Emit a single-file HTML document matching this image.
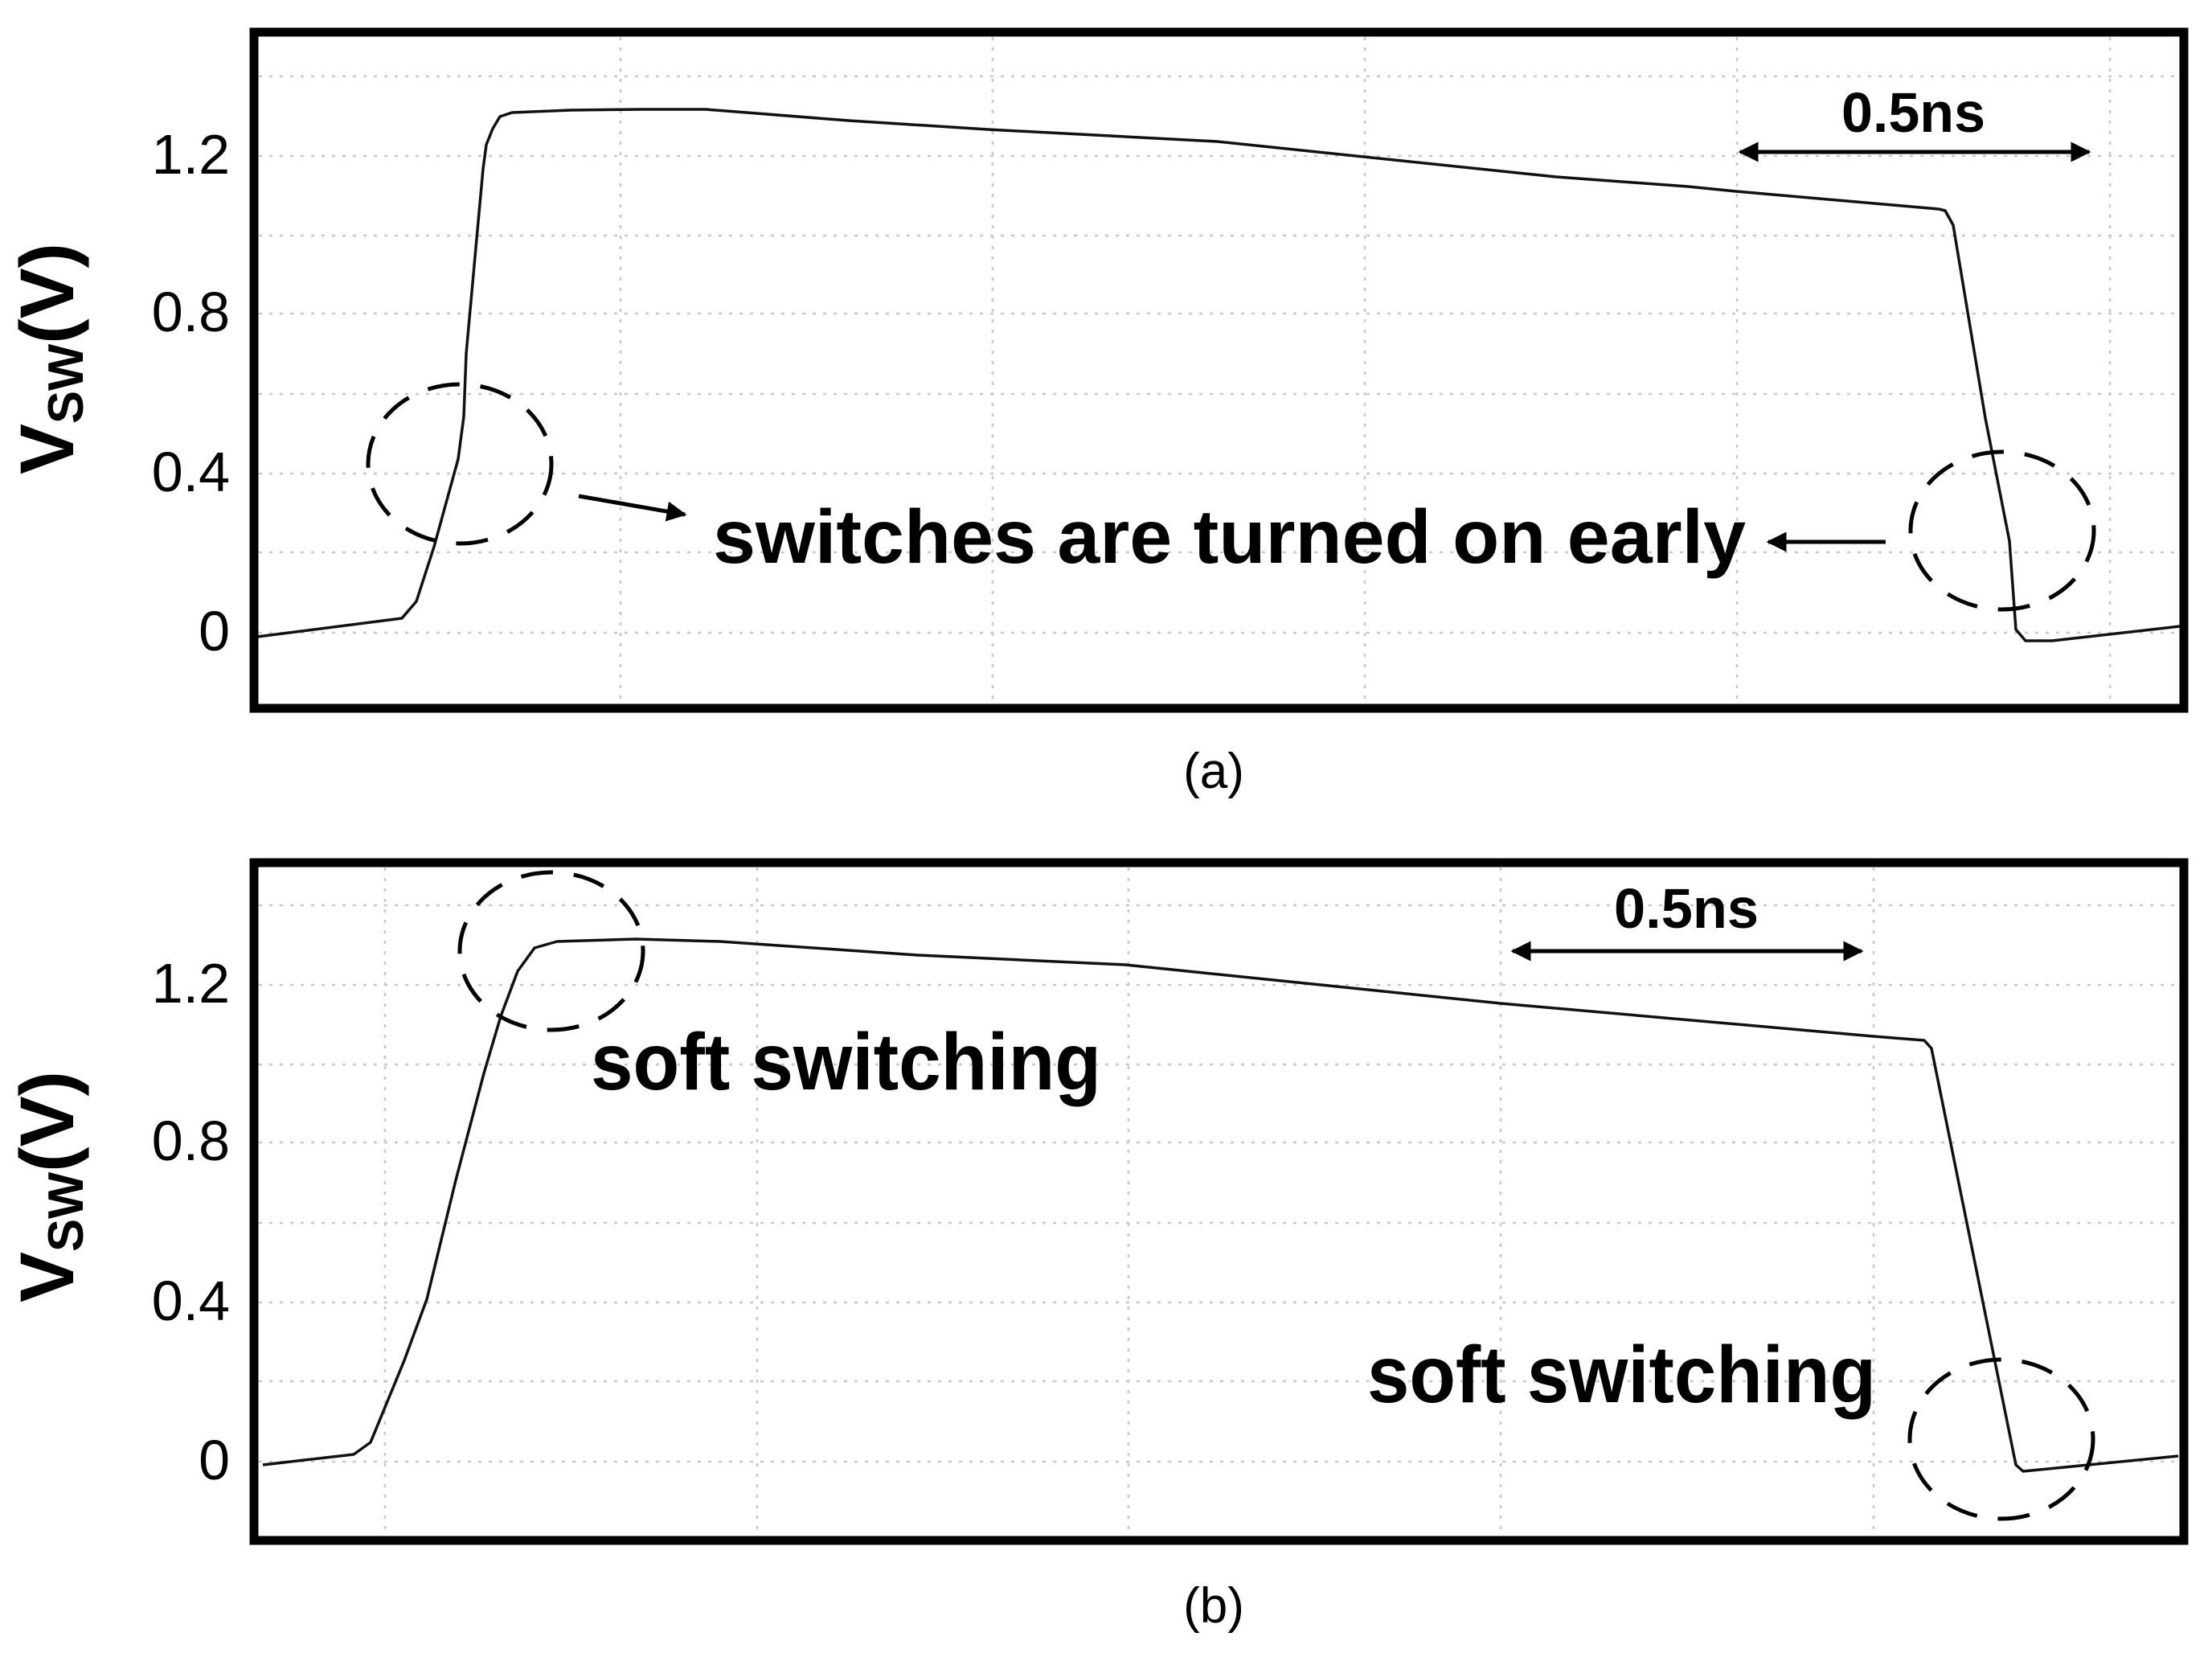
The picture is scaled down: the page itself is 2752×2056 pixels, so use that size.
<!DOCTYPE html>
<html><head><meta charset="utf-8"><style>html,body{margin:0;padding:0;background:#fff}svg{display:block}</style></head>
<body>
<svg xmlns="http://www.w3.org/2000/svg" width="2752" height="2056" viewBox="0 0 2752 2056">
<defs>
<marker id="ah" viewBox="0 0 10 10" refX="9" refY="5" markerWidth="5" markerHeight="5" orient="auto-start-reverse" markerUnits="strokeWidth"><path d="M0,0 L10,5 L0,10 z" fill="#000"/></marker>
</defs>
<rect width="2752" height="2056" fill="#fff"/>
<g stroke="#c8c8c8" stroke-width="2.5" stroke-dasharray="4,9" fill="none">
<path d="M322 95H2712M322 194H2712M322 293H2712M322 390H2712M322 490H2712M322 589H2712M322 687H2712M322 787H2712"/>
<path d="M772 46V876M1235 46V876M1698 46V876M2161 46V876M2625 46V876"/>
<path d="M322 1126H2712M322 1225H2712M322 1324H2712M322 1421H2712M322 1521H2712M322 1620H2712M322 1718H2712M322 1818H2712"/>
<path d="M479 1079V1910M942 1079V1910M1404 1079V1910M1867 1079V1910M2331 1079V1910"/>
</g>
<g fill="none" stroke="#111" stroke-width="3.5" stroke-linejoin="round">
<polyline points="320,792 500,769 518,748 540,680 570,571 577,518 580,440 590,330 601,210 605,180 613,160 622,145 637,140 710,137 800,136 878,136 1056,150 1229,161 1514,176 1936,220 2100,232 2160,238 2412,260 2420,262 2430,280 2470,520 2500,673 2508,783 2520,797 2553,797 2712,779"/>
<polyline points="327,1822 440,1809 461,1794 503,1692 531,1616 567,1468 602,1335 623,1264 644,1208 665,1179 693,1171 791,1168 896,1171 1142,1188 1400,1200 1867,1248 2331,1289 2394,1294 2403,1304 2508,1822 2517,1830 2710,1811"/>
</g>
<g fill="none" stroke="#000" stroke-width="11">
<rect x="316" y="40" width="2401" height="841"/>
<rect x="316" y="1073" width="2401" height="843"/>
</g>
<g fill="none" stroke="#000" stroke-width="5" stroke-dasharray="40,26">
<ellipse cx="572" cy="577" rx="114" ry="99"/>
<ellipse cx="2491" cy="660" rx="114" ry="98"/>
<ellipse cx="686" cy="1183" rx="114" ry="98"/>
<ellipse cx="2490" cy="1790" rx="114" ry="99"/>
</g>
<g stroke="#000" stroke-width="5" fill="none">
<line x1="720" y1="617" x2="852" y2="640" marker-end="url(#ah)"/>
<line x1="2346" y1="674" x2="2200" y2="674" marker-end="url(#ah)"/>
<line x1="2165" y1="189" x2="2599" y2="189" marker-start="url(#ah)" marker-end="url(#ah)"/>
<line x1="1882" y1="1183" x2="2316" y2="1183" marker-start="url(#ah)" marker-end="url(#ah)"/>
</g>
<g font-family="Liberation Sans, Arial, sans-serif" fill="#000">
<g font-size="70" text-anchor="end">
<text x="286" y="216">1.2</text><text x="286" y="412">0.8</text><text x="286" y="611">0.4</text><text x="286" y="809">0</text>
<text x="286" y="1247">1.2</text><text x="286" y="1443">0.8</text><text x="286" y="1642">0.4</text><text x="286" y="1840">0</text>
</g>
<g font-weight="bold">
<text transform="translate(91,590) rotate(-90)" textLength="288" lengthAdjust="spacingAndGlyphs" font-size="95">V<tspan font-size="62" dy="12">SW</tspan><tspan dy="-12">(V)</tspan></text>
<text transform="translate(91,1620) rotate(-90)" textLength="288" lengthAdjust="spacingAndGlyphs" font-size="95">V<tspan font-size="62" dy="12">SW</tspan><tspan dy="-12">(V)</tspan></text>
<text x="887" y="700" font-size="95" textLength="1285" lengthAdjust="spacingAndGlyphs">switches are turned on early</text>
<text x="2291" y="164" font-size="70" textLength="179" lengthAdjust="spacingAndGlyphs">0.5ns</text>
<text x="2008" y="1154" font-size="70" textLength="180" lengthAdjust="spacingAndGlyphs">0.5ns</text>
<text x="735" y="1355" font-size="100" textLength="635" lengthAdjust="spacingAndGlyphs">soft switching</text>
<text x="1701" y="1744" font-size="100" textLength="633" lengthAdjust="spacingAndGlyphs">soft switching</text>
</g>
<g font-size="62" text-anchor="middle">
<text x="1510" y="980">(a)</text>
<text x="1510" y="2018">(b)</text>
</g>
</g>
</svg>
</body></html>
